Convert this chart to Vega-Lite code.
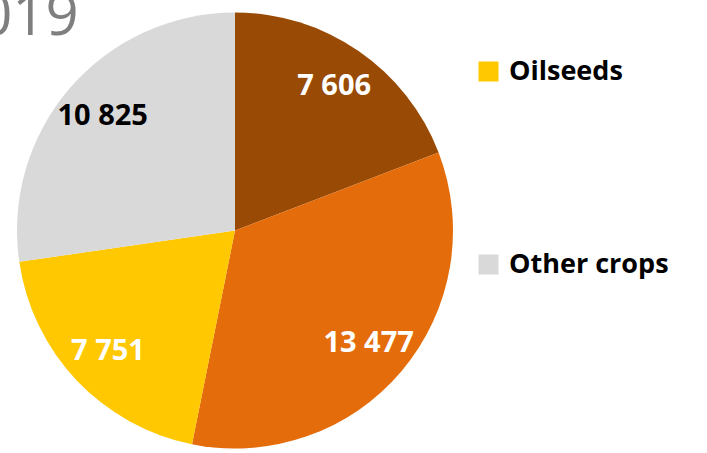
{
  "$schema": "https://vega.github.io/schema/vega-lite/v6.json",
  "width": 470,
  "height": 445,
  "autosize": {"type": "none"},
  "padding": {"left": 0, "top": 8, "right": 237, "bottom": 0},
  "background": "white",
  "title": {
    "text": "2019",
    "anchor": "start",
    "orient": "top",
    "offset": -52,
    "baseline": "alphabetic",
    "dx": -54,
    "dy": 33,
    "fontSize": 58,
    "fontWeight": 500,
    "color": "#7f7f7f",
    "font": "Open Sans"
  },
  "data": {
    "values": [
      {"crop": "Cereals", "value": 7606, "order": 1},
      {"crop": "Fruit and vegetables", "value": 13477, "order": 2},
      {"crop": "Oilseeds", "value": 7751, "order": 3},
      {"crop": "Other crops", "value": 10825, "order": 4}
    ]
  },
  "encoding": {
    "theta": {"field": "value", "type": "quantitative", "stack": true},
    "order": {"field": "order", "type": "quantitative"}
  },
  "layer": [
    {
      "mark": {"type": "arc", "outerRadius": 218, "stroke": null},
      "encoding": {
        "color": {
          "field": "crop",
          "type": "nominal",
          "scale": {
            "domain": ["Cereals", "Fruit and vegetables", "Oilseeds", "Other crops"],
            "range": ["#994a05", "#e46c0a", "#ffc800", "#d9d9d9"]
          },
          "legend": {
            "values": ["Oilseeds", "Other crops"],
            "title": null,
            "orient": "none",
            "legendX": 475,
            "legendY": 50,
            "symbolType": "square",
            "symbolSize": 400,
            "symbolStrokeWidth": 0,
            "labelFont": "Open Sans",
            "labelFontSize": 27,
            "labelFontWeight": "bold",
            "labelColor": "black",
            "labelOffset": 7,
            "rowPadding": 165,
            "padding": 0,
            "labelLimit": 300
          }
        }
      }
    },
    {
      "mark": {
        "type": "text",
        "radius": 175,
        "font": "Open Sans",
        "fontSize": 29,
        "fontWeight": "bold",
        "align": "center",
        "baseline": "middle"
      },
      "encoding": {
        "text": {"field": "value", "type": "quantitative", "format": ",d"},
        "color": {
          "condition": {"test": "datum.crop === 'Other crops'", "value": "black"},
          "value": "white"
        }
      }
    }
  ],
  "config": {
    "view": {"stroke": null},
    "locale": {"number": {"decimal": ".", "thousands": " ", "grouping": [3], "currency": ["", ""]}}
  }
}
